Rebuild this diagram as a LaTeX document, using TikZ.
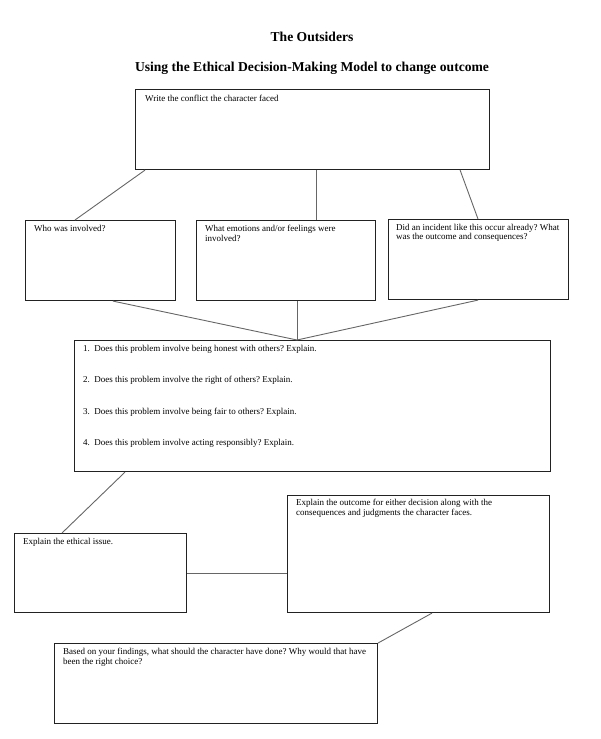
\documentclass[tikz,border=0pt]{standalone}
\usepackage{fontspec}
\setmainfont{Liberation Serif}
\usetikzlibrary{positioning}

\definecolor{boxline}{HTML}{222222}
\definecolor{linkgray}{HTML}{666666}

\newcommand{\prompttext}{\fontsize{9}{9.5}\selectfont}
\newcommand{\headtext}{\fontsize{13.6}{15}\selectfont\bfseries}
\frenchspacing

\begin{document}
\begin{tikzpicture}[
    x=1pt, y=-1pt,
    box/.style={
      draw=boxline, line width=1.1pt,
      anchor=north west, inner sep=0pt
    },
    prompt/.style={anchor=north west, font=\prompttext, align=left, inner sep=0pt},
    heading/.style={font=\headtext, inner sep=0pt},
    link/.style={draw=linkgray, line width=0.9pt}
  ]
  \useasboundingbox (0,0) rectangle (600,739);

% --- Headings ---
  \node[heading] (title) at (312,37) {The Outsiders};
  \node[heading] (subtitle) at (312,68) {Using the Ethical Decision-Making Model to change outcome};

% --- Conflict box ---
  \node[box, minimum width=354, minimum height=80] (conflict) at (135,89) {};
  \node[prompt] (conflicttext) at ([xshift=10,yshift=-6]conflict.north west) {Write the conflict the character faced};

% --- Row of three boxes ---
  \node[box, minimum width=150, minimum height=80] (who) at (25,220) {};
  \node[prompt] (whotext) at ([xshift=9,yshift=-5]who.north west) {Who was involved?};

  \node[box, minimum width=179, minimum height=80] (emotions) at (196,220) {};
  \node[prompt] (emotionstext) at ([xshift=9,yshift=-5]emotions.north west) {What emotions and/or feelings were\\involved?};

  \node[box, minimum width=180, minimum height=80] (incident) at (388,219) {};
  \node[prompt] (incidenttext) at ([xshift=8,yshift=-5]incident.north west) {Did an incident like this occur already? What\\was the outcome and consequences?};

% --- Questions box ---
  \node[box, minimum width=476, minimum height=131] (questions) at (74,340) {};
  \node[prompt] (questionstext) at ([xshift=9,yshift=-5]questions.north west) {%
    1.\ \ Does this problem involve being honest with others? Explain.\\[22pt]
    2.\ \ Does this problem involve the right of others? Explain.\\[22pt]
    3.\ \ Does this problem involve being fair to others? Explain.\\[22pt]
    4.\ \ Does this problem involve acting responsibly? Explain.};

% --- Lower boxes ---
  \node[box, minimum width=172, minimum height=79] (ethical) at (14,533) {};
  \node[prompt] (ethicaltext) at ([xshift=9,yshift=-5]ethical.north west) {Explain the ethical issue.};

  \node[box, minimum width=262, minimum height=117] (outcome) at (287,495) {};
  \node[prompt] (outcometext) at ([xshift=9,yshift=-4]outcome.north west) {Explain the outcome for either decision along with the\\consequences and judgments the character faces.};

  \node[box, minimum width=323, minimum height=80] (choice) at (54,643) {};
  \node[prompt] (choicetext) at ([xshift=9,yshift=-5]choice.north west) {Based on your findings, what should the character have done? Why would that have\\been the right choice?};

% --- Connectors ---
  \draw[link] ([xshift=10]conflict.south west) -- ([xshift=50]who.north west);
  \draw[link] ([xshift=4]conflict.south) -- ([xshift=4]conflict.south |- emotions.north);
  \draw[link] ([xshift=-30]conflict.south east) -- ([xshift=90]incident.north west);

  \coordinate (meet) at ([xshift=223]questions.north west);
  \draw[link] ([xshift=88]who.south west) -- (meet);
  \draw[link] (meet |- emotions.south) -- (meet);
  \draw[link] ([xshift=90]incident.south west) -- (meet);

  \draw[link] ([xshift=51]questions.south west) -- ([xshift=48]ethical.north west);
  \draw[link] (ethical.east) -- (ethical.east -| outcome.west);
  \draw[link] ([xshift=145]outcome.south west) -- (choice.north east);
\end{tikzpicture}
\end{document}
